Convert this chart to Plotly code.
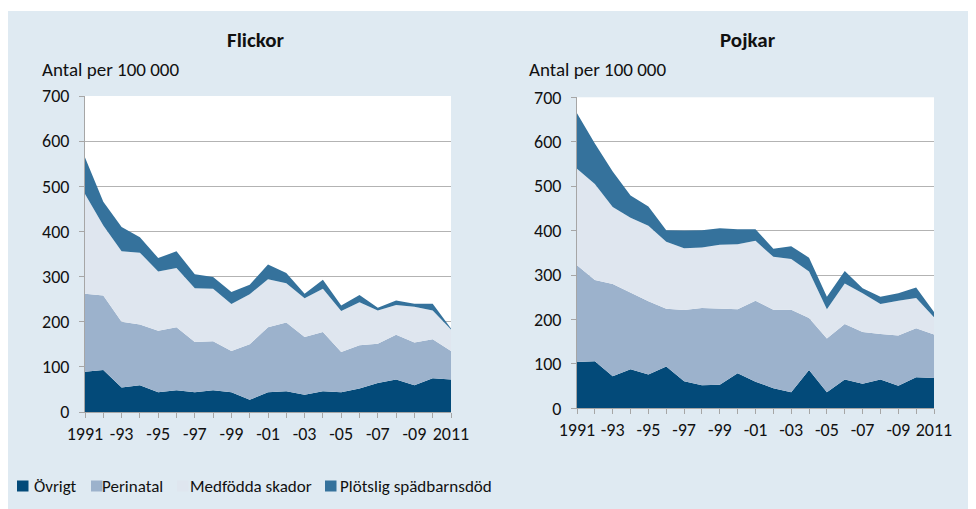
import plotly.graph_objects as go

# ---------------- data ----------------
years = list(range(1991, 2012))
year_ticktext = ["1991", "", "-93", "", "-95", "", "-97", "", "-99", "", "-01", "",
                 "-03", "", "-05", "", "-07", "", "-09", "", "2011"]
y_ticks = [0, 100, 200, 300, 400, 500, 600, 700]

series_names = ["Övrigt", "Perinatal", "Medfödda skador", "Plötslig spädbarnsdöd"]

flickor_ovrigt = [89, 93, 54, 59, 44, 48, 44, 48, 44, 27, 44, 46, 38, 46, 44, 52, 64, 72, 59, 75, 72]
flickor_perinatal = [173, 165, 146, 135, 136, 140, 111, 109, 91, 123, 144, 152, 128, 131, 89, 96, 87, 99, 95, 86, 63]
flickor_medfodda = [221, 155, 156, 159, 131, 131, 119, 116, 104, 111, 106, 87, 86, 96, 91, 95, 74, 66, 79, 64, 48]
flickor_plotslig = [81, 53, 54, 34, 30, 37, 31, 26, 27, 21, 33, 23, 10, 20, 12, 16, 6, 10, 7, 15, 2]

pojkar_ovrigt = [104, 106, 72, 88, 76, 94, 61, 52, 53, 79, 60, 45, 36, 86, 36, 65, 55, 65, 51, 70, 68]
pojkar_perinatal = [218, 183, 208, 172, 165, 130, 160, 174, 172, 144, 182, 177, 186, 117, 121, 125, 117, 102, 113, 110, 98]
pojkar_medfodda = [217, 216, 173, 169, 170, 151, 139, 136, 143, 146, 135, 119, 114, 105, 66, 91, 87, 68, 78, 68, 39]
pojkar_plotslig = [125, 91, 80, 50, 43, 26, 40, 39, 37, 34, 26, 18, 29, 31, 28, 28, 11, 16, 17, 24, 12]

colors = ["#034a79", "#9cb2cc", "#dfe6ef", "#35729c"]

# ---------------- layout helpers (page pixel coords; page has 8px body margin) ----------------
OFF = 8
W, H = 968, 501
ML, MR, MT, MB = 85 - OFF, W - (934 - OFF), 96 - OFF, H - (412 - OFF)
PW, PH = W - ML - MR, H - MT - MB


def px_x(px):
    return (px - OFF - ML) / PW


def px_y(py):
    return (H - MB - (py - OFF)) / PH


FONT = "Calibri, Carlito, Lato, sans-serif"
BG = "#dfeaf2"
GRID = "#b3b3b3"
AXIS = "#a6a6a6"
TXT = "#111111"

fig = go.Figure()

panels = [
    ("x", "y", [flickor_ovrigt, flickor_perinatal, flickor_medfodda, flickor_plotslig], "f"),
    ("x2", "y2", [pojkar_ovrigt, pojkar_perinatal, pojkar_medfodda, pojkar_plotslig], "p"),
]
for xa, ya, data, grp in panels:
    for name, vals, col in zip(series_names, data, colors):
        fig.add_trace(go.Scatter(
            x=years, y=vals, name=name, xaxis=xa, yaxis=ya,
            stackgroup=grp, mode="lines", line=dict(width=0, color=col),
            fillcolor=col, showlegend=False, hoverinfo="x+y+name"))

xcommon = dict(range=[1991, 2011], tickvals=years, ticktext=year_ticktext,
               ticks="outside", ticklen=5, tickcolor=AXIS, showline=True,
               linecolor=AXIS, linewidth=1, showgrid=False, zeroline=False,
               tickfont=dict(family=FONT, size=18, color=TXT), fixedrange=True)
ycommon = dict(range=[0, 700], tickvals=y_ticks, ticks="outside", ticklen=5,
               tickcolor=AXIS, showline=True, linecolor=AXIS, linewidth=1,
               showgrid=True, gridcolor=GRID, gridwidth=1, zeroline=False,
               tickfont=dict(family=FONT, size=18, color=TXT), fixedrange=True,
               ticklabelstandoff=6)

annotations = [
    dict(text="<b>Flickor</b>", x=px_x(256), y=px_y(40), font=dict(size=21),
         xanchor="center"),
    dict(text="<b>Pojkar</b>", x=px_x(748), y=px_y(40), font=dict(size=21),
         xanchor="center"),
    dict(text="Antal per 100 000", x=px_x(40), y=px_y(69), font=dict(size=19),
         xanchor="left"),
    dict(text="Antal per 100 000", x=px_x(527), y=px_y(69), font=dict(size=19),
         xanchor="left"),
]
shapes = [
    dict(type="rect", xref="paper", yref="paper", x0=px_x(0), x1=px_x(990),
         y0=px_y(11), y1=px_y(0), fillcolor="white", line=dict(width=0), layer="below"),
]

# legend (square swatch + label per series)
legend_sq_x = [17, 91, 177, 325]
legend_txt_x = [32, 100, 188, 338]
LEG_Y = 486
for name, col, sx, tx in zip(series_names, colors, legend_sq_x, legend_txt_x):
    shapes.append(dict(type="rect", xref="paper", yref="paper",
                       x0=px_x(sx), x1=px_x(sx + 11.5), y0=px_y(LEG_Y + 5.5), y1=px_y(LEG_Y - 5.5),
                       fillcolor=col, line=dict(width=0)))
    annotations.append(dict(text=name, x=px_x(tx), y=px_y(LEG_Y), font=dict(size=17),
                            xanchor="left"))

for a in annotations:
    a.update(xref="paper", yref="paper", showarrow=False, yanchor="middle")

fig.update_layout(
    width=W, height=H,
    margin=dict(l=ML, r=MR, t=MT, b=MB, pad=0),
    paper_bgcolor=BG, plot_bgcolor="white",
    font=dict(family=FONT, size=17, color=TXT),
    xaxis=dict(domain=[0, px_x(451)], anchor="y", **xcommon),
    yaxis=dict(domain=[0, 1], anchor="x", **ycommon),
    xaxis2=dict(domain=[px_x(577), 1], anchor="y2", **xcommon),
    yaxis2=dict(domain=[px_y(408.3), px_y(97.3)], anchor="x2", **ycommon),
    showlegend=False,
    annotations=annotations,
    shapes=shapes,
)

fig.write_html("out.html")
